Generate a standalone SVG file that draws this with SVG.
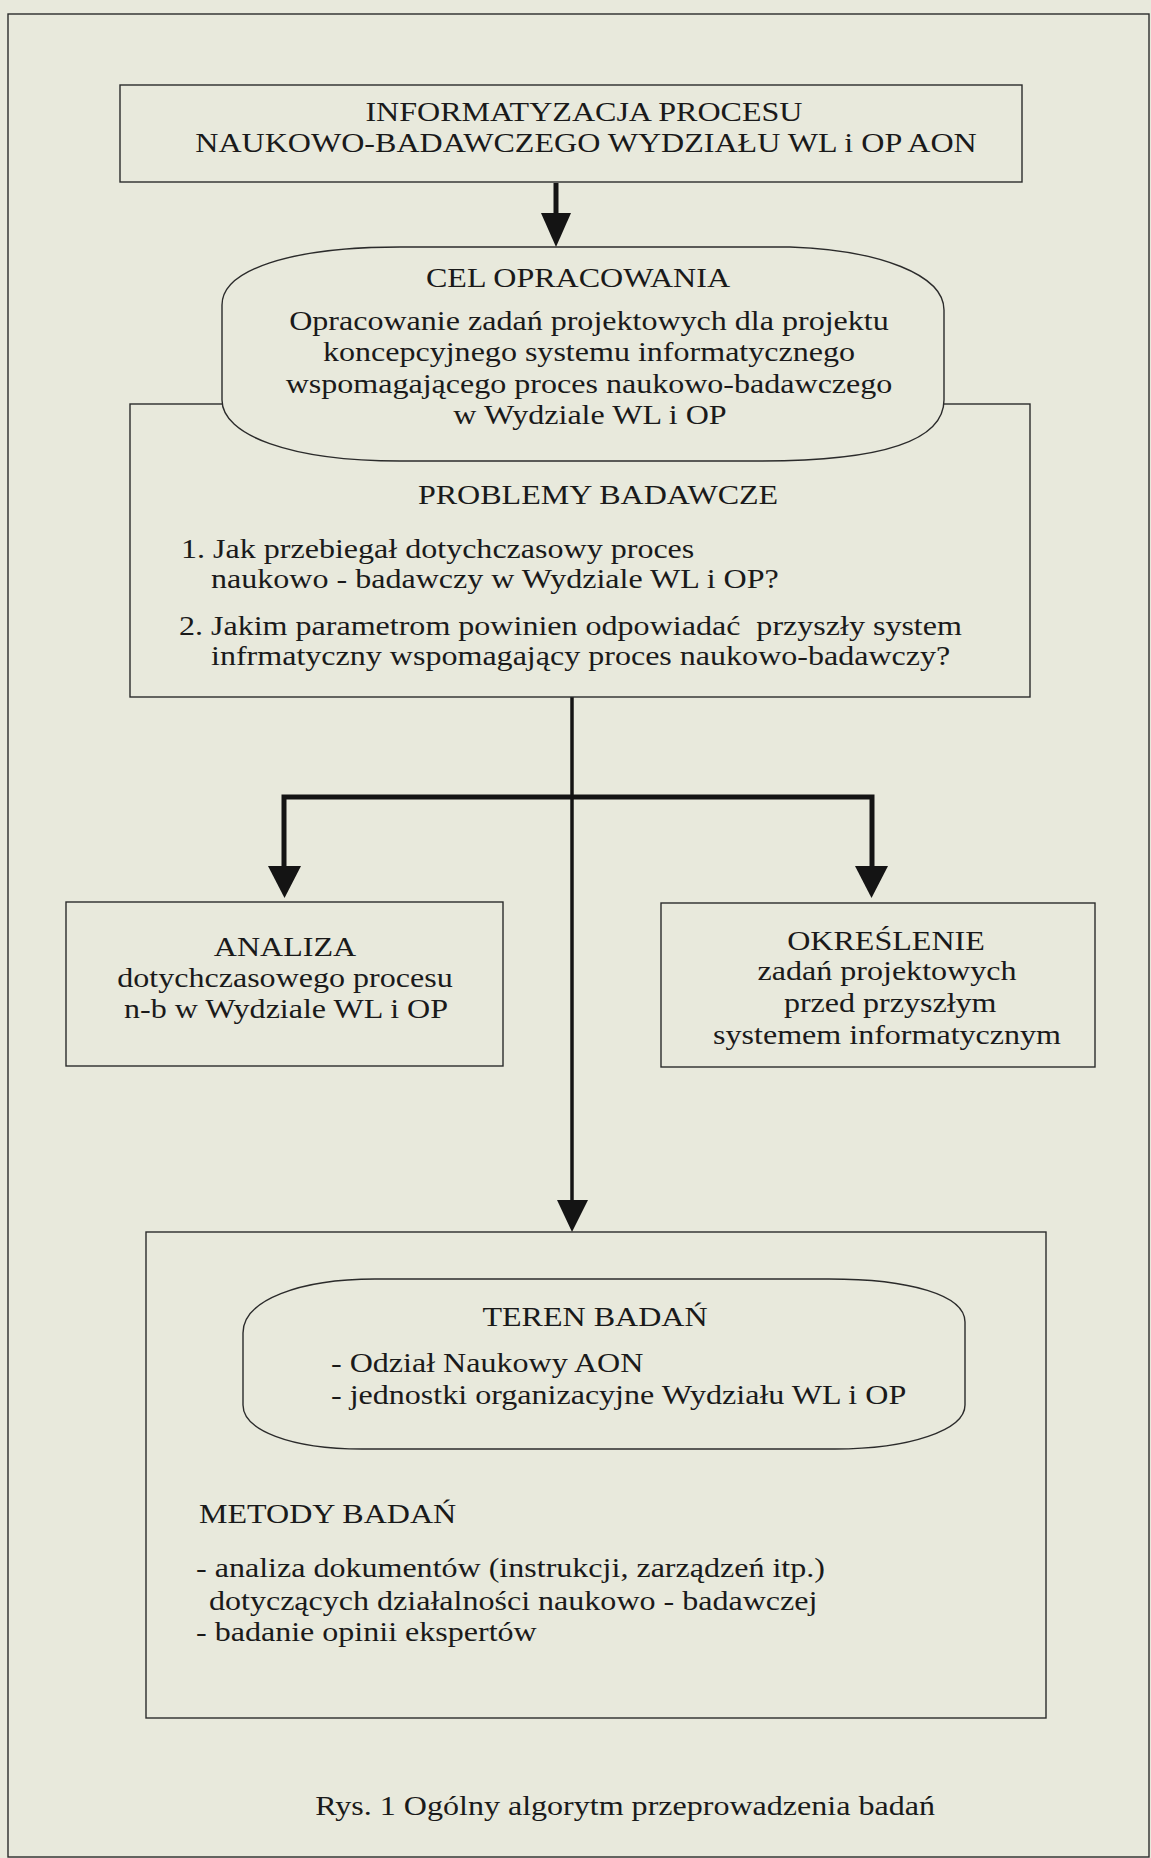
<svg xmlns="http://www.w3.org/2000/svg" width="1151" height="1858" viewBox="0 0 1151 1858">
<style>
.bg{fill:#e8e9dc}
.box{fill:none;stroke:#2b2b2b;stroke-width:1.4}
.shape{fill:#e8e9dc;stroke:#2b2b2b;stroke-width:1.4}
text{font-family:"Liberation Serif","Times New Roman",serif;font-size:28px;fill:#1a1a1a}
.c{text-anchor:middle}
.line{stroke:#141414;fill:none}
.head{fill:#141414}
</style>
<rect class="bg" x="0" y="0" width="1151" height="1858"/>
<rect class="box" x="8" y="14" width="1141" height="1843"/>

<g id="connectors">
  <line class="line" x1="556" y1="183" x2="556" y2="216" stroke-width="5"/>
  <polygon class="head" points="541,213 571,213 556,247"/>
  <line class="line" x1="572" y1="697" x2="572" y2="1203" stroke-width="3.5"/>
  <polygon class="head" points="557,1200 588,1200 572,1232"/>
  <polyline class="line" points="284,870 284,797 872,797 872,870" stroke-width="5"/>
  <polygon class="head" points="268,866 301,866 284.5,898"/>
  <polygon class="head" points="855,866 888,866 871.5,898"/>
</g>

<g id="node-informatyzacja">
  <rect class="box" x="120" y="85" width="902" height="97"/>
  <text class="c" transform="scale(1.145,1)" x="510" y="121">INFORMATYZACJA PROCESU</text>
  <text class="c" transform="scale(1.145,1)" x="511.8" y="152">NAUKOWO-BADAWCZEGO WYDZIAŁU WL i OP AON</text>
</g>

<g id="node-problemy">
  <rect class="box" x="130" y="404" width="900" height="293"/>
  <text class="c" transform="scale(1.145,1)" x="522.3" y="504">PROBLEMY BADAWCZE</text>
  <text transform="scale(1.145,1)" x="158.1" y="558">1. Jak przebiegał dotychczasowy proces</text>
  <text transform="scale(1.145,1)" x="184.3" y="588">naukowo - badawczy w Wydziale WL i OP?</text>
  <text transform="scale(1.145,1)" x="156.3" y="635">2. Jakim parametrom powinien odpowiadać&#160; przyszły system</text>
  <text transform="scale(1.145,1)" x="184.3" y="665">infrmatyczny wspomagający proces naukowo-badawczy?</text>
</g>

<g id="node-cel">
  <path class="shape" d="M400,247 L790,247 C880,250 944,275 944,310 L944,400 C944,435 900,461 760,461 L400,461 C290,461 222,435 222,400 L222,305 C222,270 290,247 400,247 Z"/>
  <text class="c" transform="scale(1.145,1)" x="504.8" y="287">CEL OPRACOWANIA</text>
  <text class="c" transform="scale(1.145,1)" x="514.4" y="330">Opracowanie zadań projektowych dla projektu</text>
  <text class="c" transform="scale(1.145,1)" x="514.4" y="361.5">koncepcyjnego systemu informatycznego</text>
  <text class="c" transform="scale(1.145,1)" x="514.4" y="393">wspomagającego proces naukowo-badawczego</text>
  <text class="c" transform="scale(1.145,1)" x="515.3" y="424">w Wydziale WL i OP</text>
</g>

<g id="node-analiza">
  <rect class="box" x="66" y="902" width="437" height="164"/>
  <text class="c" transform="scale(1.145,1)" x="248.9" y="956">ANALIZA</text>
  <text class="c" transform="scale(1.145,1)" x="248.9" y="987">dotychczasowego procesu</text>
  <text class="c" transform="scale(1.145,1)" x="249.8" y="1018">n-b w Wydziale WL i OP</text>
</g>

<g id="node-okreslenie">
  <rect class="box" x="661" y="903" width="434" height="164"/>
  <text class="c" transform="scale(1.145,1)" x="773.8" y="950">OKREŚLENIE</text>
  <text class="c" transform="scale(1.145,1)" x="774.7" y="980">zadań projektowych</text>
  <text class="c" transform="scale(1.145,1)" x="777.5" y="1012">przed przyszłym</text>
  <text class="c" transform="scale(1.145,1)" x="774.7" y="1044">systemem informatycznym</text>
</g>

<g id="node-teren-metody">
  <rect class="box" x="146" y="1232" width="900" height="486"/>
  <path class="shape" d="M375,1279 L829,1279 C910,1279 965,1295 965,1322 L965,1405 C965,1430 910,1449 835,1449 L362,1449 C290,1449 243,1430 243,1405 L243,1333 C243,1300 300,1279 375,1279 Z"/>
  <text class="c" transform="scale(1.145,1)" x="519.7" y="1326">TEREN BADAŃ</text>
  <text transform="scale(1.145,1)" x="289.1" y="1372">- Odział Naukowy AON</text>
  <text transform="scale(1.145,1)" x="289.1" y="1404">- jednostki organizacyjne Wydziału WL i OP</text>
  <text transform="scale(1.145,1)" x="173.8" y="1523">METODY BADAŃ</text>
  <text transform="scale(1.145,1)" x="171.2" y="1577">- analiza dokumentów (instrukcji, zarządzeń itp.)</text>
  <text transform="scale(1.145,1)" x="182.5" y="1610">dotyczących działalności naukowo - badawczej</text>
  <text transform="scale(1.145,1)" x="171.2" y="1641">- badanie opinii ekspertów</text>
</g>

<text class="c" transform="scale(1.145,1)" x="545.9" y="1815">Rys. 1 Ogólny algorytm przeprowadzenia badań</text>
</svg>
